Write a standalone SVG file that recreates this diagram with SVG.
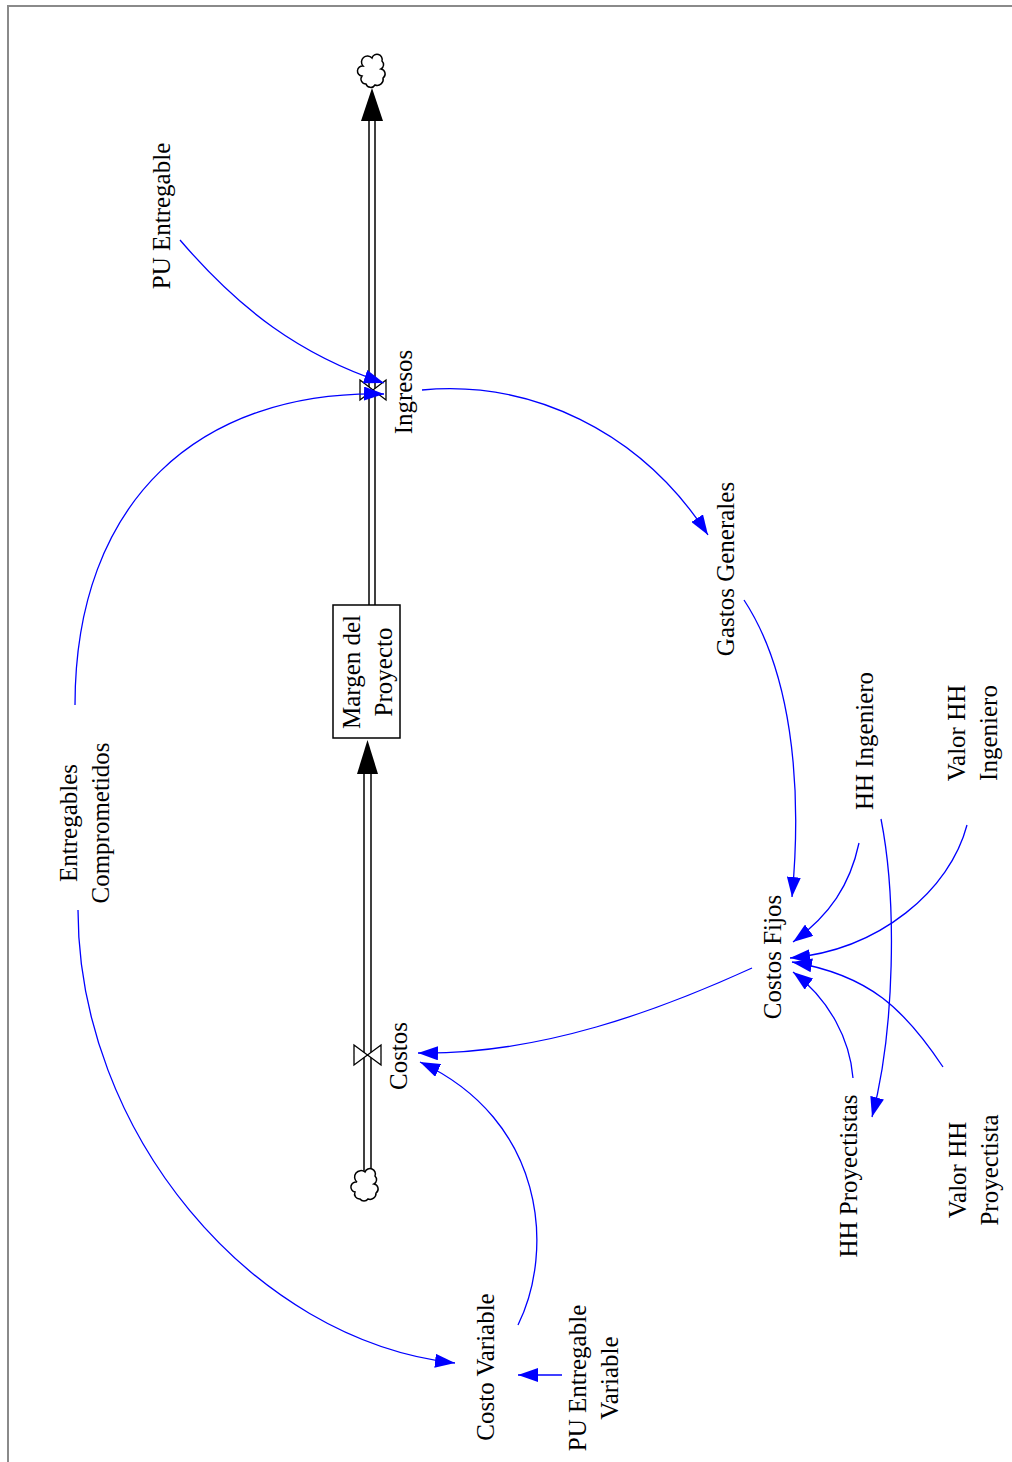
<svg xmlns="http://www.w3.org/2000/svg" width="1012" height="1462" viewBox="0 0 1012 1462">
  <style>
    .lbl { font-family: "Liberation Serif", "Times New Roman", serif; font-size: 25px; fill: #000; text-anchor: middle; }
    .link { fill: none; stroke: #0000ff; stroke-width: 1.3; marker-end: url(#ah); }
    .pipe { stroke: #000; stroke-width: 1.5; fill: none; }
    .cloud { fill: #fff; stroke: #000; stroke-width: 1.5; }
    .valve { fill: #fff; stroke: #000; stroke-width: 1.3; }
  </style>
  <defs>
    <marker id="ah" markerUnits="userSpaceOnUse" markerWidth="22" markerHeight="14" refX="20" refY="7" orient="auto">
      <path d="M0,0 L20,7 L0,14 z" fill="#0000ff"/>
    </marker>
  </defs>

  <rect width="1012" height="1462" fill="#fff"/>
  <path d="M8,1462 V6 H1012" fill="none" stroke="#8a8a8a" stroke-width="2"/>

  <!-- flow pipes -->
  <g id="flow-ingresos">
    <line class="pipe" x1="369" y1="118" x2="369" y2="605"/>
    <line class="pipe" x1="375" y1="118" x2="375" y2="605"/>
    <polygon points="372,88 361,121 383,121" fill="#000"/>
    <path class="cloud" d="M366,84 a5,5 0 0 1 -4,-8 a5,5 0 0 1 1,-10 a6,6 0 0 1 9,-8 a5,5 0 0 1 10,3 a5,5 0 0 1 -1,8 a5,5 0 0 1 2,9 a6,6 0 0 1 -8,7 a5,5 0 0 1 -9,-1 z"/>
    <path class="valve" d="M360,380 L386,400 L386,380 L360,400 z"/>
    <text class="lbl" transform="translate(403,392) rotate(-90)" dy="0.35em">Ingresos</text>
  </g>

  <g id="flow-costos">
    <line class="pipe" x1="364" y1="772" x2="364" y2="1172"/>
    <line class="pipe" x1="371" y1="772" x2="371" y2="1172"/>
    <polygon points="367.5,740 357,774 378,774" fill="#000"/>
    <path class="cloud" d="M360,1199 a5,5 0 0 1 -5,-7 a5,5 0 0 1 2,-10 a6,6 0 0 1 8,-10 a5,5 0 0 1 10,4 a5,5 0 0 1 -1,8 a5,5 0 0 1 2,9 a6,6 0 0 1 -8,6 a5,5 0 0 1 -8,0 z"/>
    <path class="valve" d="M354,1045 L381,1065 L381,1045 L354,1065 z"/>
    <text class="lbl" transform="translate(398,1056) rotate(-90)" dy="0.35em">Costos</text>
  </g>

  <!-- stock -->
  <g id="margen-del-proyecto">
    <rect x="333" y="605" width="67" height="133" fill="#fff" stroke="#000" stroke-width="1.5"/>
    <text class="lbl" transform="translate(351,672) rotate(-90)" dy="0.35em">Margen del</text>
    <text class="lbl" transform="translate(383,672) rotate(-90)" dy="0.35em">Proyecto</text>
  </g>

  <!-- auxiliaries -->
  <g id="pu-entregable">
    <text class="lbl" transform="translate(161,216) rotate(-90)" dy="0.35em">PU Entregable</text>
  </g>
  <g id="entregables-comprometidos">
    <text class="lbl" transform="translate(68,823) rotate(-90)" dy="0.35em">Entregables</text>
    <text class="lbl" transform="translate(100,823) rotate(-90)" dy="0.35em">Comprometidos</text>
  </g>
  <g id="gastos-generales">
    <text class="lbl" transform="translate(725,569) rotate(-90)" dy="0.35em">Gastos Generales</text>
  </g>
  <g id="costos-fijos">
    <text class="lbl" transform="translate(772,957) rotate(-90)" dy="0.35em">Costos Fijos</text>
  </g>
  <g id="hh-ingeniero">
    <text class="lbl" transform="translate(864,741) rotate(-90)" dy="0.35em">HH Ingeniero</text>
  </g>
  <g id="valor-hh-ingeniero">
    <text class="lbl" transform="translate(956,733) rotate(-90)" dy="0.35em">Valor HH</text>
    <text class="lbl" transform="translate(988,733) rotate(-90)" dy="0.35em">Ingeniero</text>
  </g>
  <g id="hh-proyectistas">
    <text class="lbl" transform="translate(848,1176) rotate(-90)" dy="0.35em">HH Proyectistas</text>
  </g>
  <g id="valor-hh-proyectista">
    <text class="lbl" transform="translate(957,1170) rotate(-90)" dy="0.35em">Valor HH</text>
    <text class="lbl" transform="translate(989,1170) rotate(-90)" dy="0.35em">Proyectista</text>
  </g>
  <g id="costo-variable">
    <text class="lbl" transform="translate(485,1367) rotate(-90)" dy="0.35em">Costo Variable</text>
  </g>
  <g id="pu-entregable-variable">
    <text class="lbl" transform="translate(577,1378) rotate(-90)" dy="0.35em">PU Entregable</text>
    <text class="lbl" transform="translate(609,1378) rotate(-90)" dy="0.35em">Variable</text>
  </g>

  <!-- causal links -->
  <g id="links">
    <path class="link" d="M180,240 C240,310 300,355 384,383"/>
    <path class="link" d="M75,705 C75,500 200,390 384,394"/>
    <path class="link" d="M78,910 C78,1130 250,1340 455,1363"/>
    <path class="link" d="M422,390 C530,380 640,430 708,535"/>
    <path class="link" d="M744,600 C790,670 803,780 792,897"/>
    <path class="link" d="M859,843 C850,885 830,915 793,942"/>
    <path class="link" d="M967,825 C950,890 880,950 790,958"/>
    <path class="link" d="M881,819 C897,900 895,1030 872,1117"/>
    <path class="link" d="M943,1067 C905,1010 870,975 792,962"/>
    <path class="link" d="M853,1078 C850,1040 830,1000 793,972"/>
    <path class="link" d="M752,968 C660,1010 540,1055 418,1053"/>
    <path class="link" d="M518,1325 C555,1250 545,1120 420,1062"/>
    <path class="link" d="M562,1375 L518,1375"/>
  </g>
</svg>
